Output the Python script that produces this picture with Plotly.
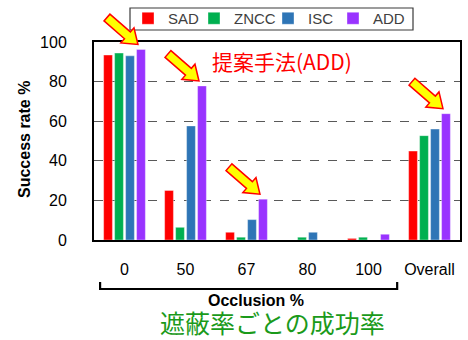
import numpy as np
import plotly.graph_objects as go

# ---------------- data ----------------
categories = ["0", "50", "67", "80", "100", "Overall"]
methods = ["SAD", "ZNCC", "ISC", "ADD"]
sad = [93.4, 25.0, 3.9, 0.0, 0.8, 44.9]
zncc = [94.4, 6.4, 1.4, 1.4, 1.4, 52.7]
isc = [93.0, 57.6, 10.3, 3.9, 0.0, 56.0]
add = [96.2, 77.8, 20.6, 0.0, 2.9, 63.8]
y_ticks = [0, 20, 40, 60, 80, 100]
highlight_categories = ["0", "50", "67", "Overall"]
occlusion_categories = ["0", "50", "67", "80", "100"]

series = [sad, zncc, isc, add]
colors = ["#ff0000", "#00b050", "#2e75b6", "#9933ff"]
legend_widths = [21, 29, 20, 30]  # legend entry spacing (style)

LATIN = "Liberation Sans"
CJK = "Noto Sans CJK JP"

W, H = 468, 340
ML, MR, MT, MB = 94, 8, 42, 100
BARGAP = 0.28
n_cat = len(categories)
x_idx = np.arange(n_cat)
plot_w = W - ML - MR
plot_h = H - MT - MB


def px_to_paper_x(px):
    return (px - ML) / plot_w


def px_to_paper_y(py):
    return (H - MB - py) / plot_h


def idx_to_paper_x(v):
    return (v + 0.5) / n_cat


fig = go.Figure()
for name, vals, col, lw in zip(methods, series, colors, legend_widths):
    fig.add_trace(go.Bar(
        x=x_idx, y=vals, name=name, legendwidth=lw,
        marker=dict(color=col, line=dict(color="rgba(255,255,255,0.6)", width=0.6)),
    ))

fig.update_layout(
    width=W, height=H,
    margin=dict(l=ML, r=MR, t=MT, b=MB, pad=0, autoexpand=False),
    paper_bgcolor="white", plot_bgcolor="white",
    barmode="group", bargap=BARGAP, bargroupgap=0.2,
    font=dict(family=LATIN, size=16, color="#000000"),
    showlegend=True,
    legend=dict(
        orientation="h", x=px_to_paper_x(128), y=px_to_paper_y(2),
        xanchor="left", yanchor="top",
        borderwidth=0, bgcolor="rgba(0,0,0,0)",
        font=dict(family=LATIN, size=15, color="#404040"),
        itemwidth=30, traceorder="normal",
    ),
)

fig.update_xaxes(
    range=[-0.5, n_cat - 0.5],
    tickmode="array", tickvals=list(x_idx), ticktext=categories,
    ticks="", showgrid=False, zeroline=False,
    showline=True, linecolor="black", linewidth=2, mirror=True,
    tickfont=dict(family=LATIN, size=16, color="black"),
    ticklabelstandoff=14,
)
fig.update_yaxes(
    range=[0, 100], tickvals=y_ticks,
    ticks="", showgrid=True, gridcolor="#595959", griddash="dash", gridwidth=1,
    zeroline=False,
    showline=True, linecolor="black", linewidth=2, mirror=True,
    tickfont=dict(family=LATIN, size=16, color="black"),
    ticklabelstandoff=22,
)

# legend frame
fig.add_shape(
    type="rect", xref="paper", yref="paper",
    x0=px_to_paper_x(130), x1=px_to_paper_x(413),
    y0=px_to_paper_y(30), y1=px_to_paper_y(8),
    line=dict(color="#3a3a3a", width=1.2), fillcolor="white", layer="below",
)

# --------- annotations ----------
def note(text, px, py, size, color, family, angle=0):
    fig.add_annotation(
        text=text, textangle=angle,
        xref="paper", yref="paper", x=px_to_paper_x(px), y=px_to_paper_y(py),
        xanchor="center", yanchor="middle", borderpad=0,
        showarrow=False, font=dict(family=family, size=size, color=color),
    )


note("<b>Success rate %</b>", 24, 140, 16, "black", LATIN, -90)
note("<b>Occlusion %</b>", 256, 300, 16, "black", LATIN)
note("遮蔽率ごとの成功率", 272.5, 321.5, 25, "#1a9a1a", CJK)
note("提案手法(ADD)", 281.5, 61, 21, "#ff0000", CJK)

# --------- bracket under occlusion categories ----------
i0 = categories.index(occlusion_categories[0])
i1 = categories.index(occlusion_categories[-1])
bx0 = idx_to_paper_x(i0 - 0.4)
bx1 = idx_to_paper_x(i1 + 0.47)
fig.add_shape(
    type="path", xref="paper", yref="paper", ysizemode="pixel", yanchor=0,
    path=f"M {bx0},-42 L {bx0},-49 L {bx1},-49 L {bx1},-42",
    line=dict(color="black", width=2.2),
)

# --------- block arrows pointing to ADD bars ----------
slot = (1 - BARGAP) / len(methods)
add_off = 1.5 * slot
d = np.array([31.0, -27.0])
L = np.hypot(*d)
u = d / L
nrm = np.array([-u[1], u[0]])
tip = np.array([-3.0, 5.0])
tail = tip - u * L
hl, hw, sw = 14.0, 10.0, 4.5
base = tip - u * hl
pts = [tail + nrm * sw, base + nrm * sw, base + nrm * hw, tip,
       base - nrm * hw, base - nrm * sw, tail - nrm * sw]
arrow_path = "M " + " L ".join(f"{p[0]:.2f},{p[1]:.2f}" for p in pts) + " Z"

for cat in highlight_categories:
    i = categories.index(cat)
    fig.add_shape(
        type="path", xref="paper", yref="paper",
        xsizemode="pixel", ysizemode="pixel",
        xanchor=idx_to_paper_x(i + add_off), yanchor=add[i] / 100.0,
        path=arrow_path,
        fillcolor="#ffff00", line=dict(color="#ff0000", width=1.5),
    )

fig.write_html(
    "out.html",
    config={"displayModeBar": False},
    post_script="document.body.style.margin='0';",
)
